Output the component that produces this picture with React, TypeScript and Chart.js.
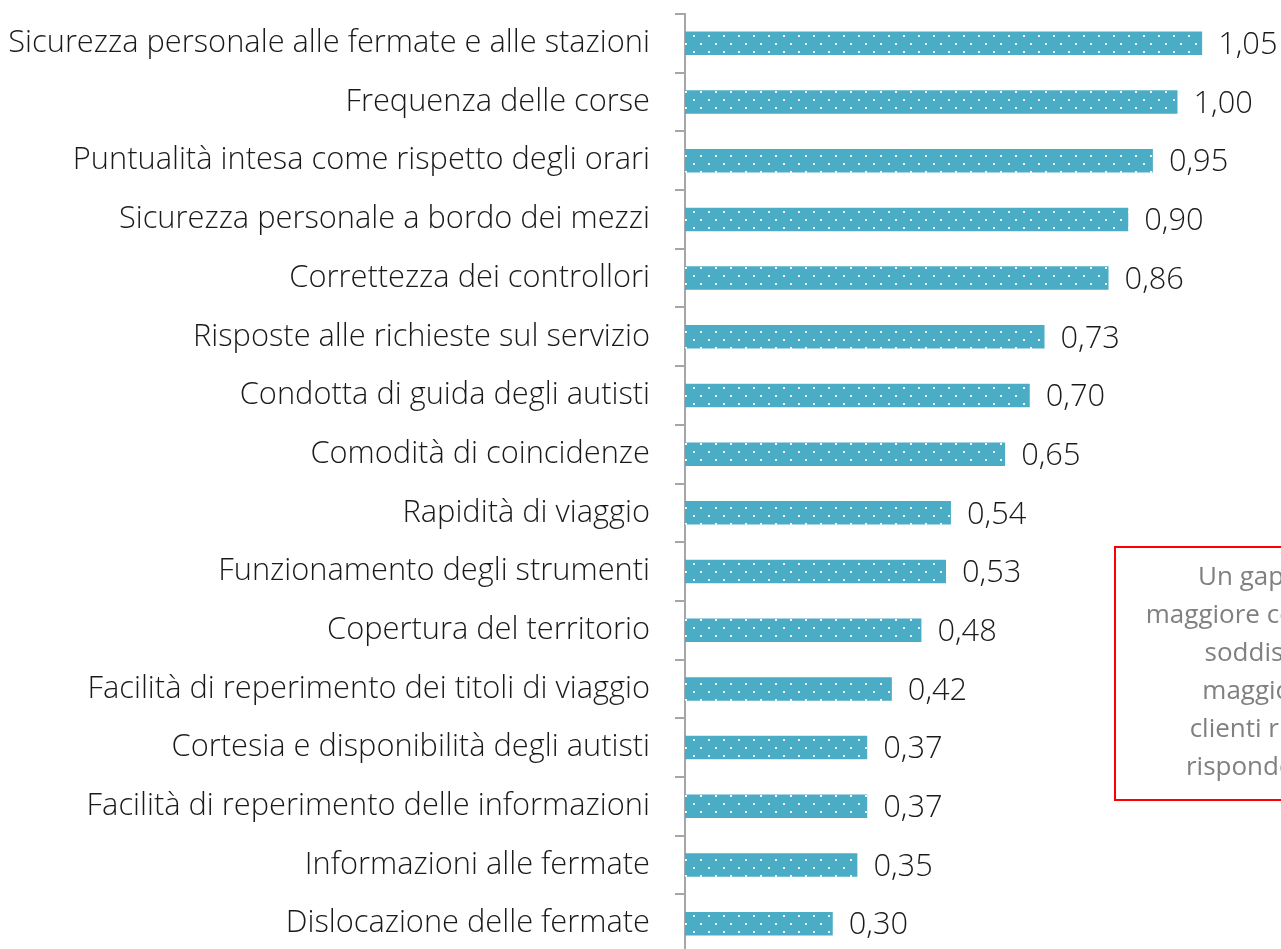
import React, { useEffect, useRef } from "react";
import { Chart, registerables } from "chart.js";

Chart.register(...registerables);

const categories: string[] = [
  "Sicurezza personale alle fermate e alle stazioni",
  "Frequenza delle corse",
  "Puntualità intesa come rispetto degli orari",
  "Sicurezza personale a bordo dei mezzi",
  "Correttezza dei controllori",
  "Risposte alle richieste sul servizio",
  "Condotta di guida degli autisti",
  "Comodità di coincidenze",
  "Rapidità di viaggio",
  "Funzionamento degli strumenti",
  "Copertura del territorio",
  "Facilità di reperimento dei titoli di viaggio",
  "Cortesia e disponibilità degli autisti",
  "Facilità di reperimento delle informazioni",
  "Informazioni alle fermate",
  "Dislocazione delle fermate",
];

const gapValues: number[] = [
  1.05, 1.0, 0.95, 0.9, 0.86, 0.73, 0.7, 0.65, 0.54, 0.53, 0.48, 0.42, 0.37, 0.37, 0.35, 0.3,
];

const noteLines: string[] = [
  "Un gap più alto",
  "maggiore corrisponde a",
  "soddisfatti del",
  "maggiore per i",
  "clienti rispetto ai",
  "rispondono bene",
];

const FONT_FAMILY = "'Open Sans', 'Noto Sans', sans-serif";
const FONT_WEIGHT = "300";
const FONT_SIZE = 30.8;

function makePattern(): CanvasPattern | string {
  const c = document.createElement("canvas");
  c.width = 15;
  c.height = 16;
  const ctx = c.getContext("2d");
  if (!ctx) return "#4BACC6";
  ctx.fillStyle = "#4BACC6";
  ctx.fillRect(0, 0, 15, 16);
  ctx.fillStyle = "rgba(255,255,255,0.95)";
  ctx.fillRect(3, 3, 2, 2);
  ctx.fillRect(10, 11, 2, 2);
  const p = ctx.createPattern(c, "repeat");
  return p || "#4BACC6";
}

const labelPlugin = {
  id: "valueLabels",
  afterDatasetsDraw(chart: any) {
    const ctx = chart.ctx;
    const meta = chart.getDatasetMeta(0);
    ctx.save();
    ctx.font = `${FONT_WEIGHT} ${FONT_SIZE}px ${FONT_FAMILY}`;
    ctx.fillStyle = "#1a1a1a";
    ctx.textAlign = "left";
    ctx.textBaseline = "middle";
    meta.data.forEach((bar: any, i: number) => {
      const txt = gapValues[i].toFixed(2).replace(".", ",");
      ctx.fillText(txt, bar.x + 16, bar.y + 2);
    });
    ctx.restore();
  },
};

const notePlugin = {
  id: "noteBox",
  afterDraw(chart: any) {
    const ctx = chart.ctx;
    ctx.save();
    ctx.strokeStyle = "#FF0000";
    ctx.lineWidth = 2;
    ctx.strokeRect(1115, 547, 350, 253);
    ctx.font = `400 26px ${FONT_FAMILY}`;
    ctx.fillStyle = "#808080";
    ctx.textAlign = "center";
    ctx.textBaseline = "middle";
    noteLines.forEach((line, i) => {
      ctx.fillText(line, 1290, 578 + i * 38);
    });
    ctx.restore();
  },
};

export default function App() {
  const ref = useRef<HTMLCanvasElement | null>(null);

  useEffect(() => {
    if (!ref.current) return;
    const chart = new Chart(ref.current, {
      type: "bar",
      data: {
        labels: categories,
        datasets: [
          {
            data: gapValues,
            backgroundColor: makePattern() as any,
            borderWidth: 0,
            categoryPercentage: 1,
            barPercentage: 0.4,
          },
        ],
      },
      options: {
        indexAxis: "y",
        responsive: false,
        animation: false,
        layout: { padding: { top: 14, bottom: 7, left: 0, right: 5 } },
        plugins: {
          legend: { display: false },
          tooltip: { enabled: false },
        },
        scales: {
          x: {
            display: false,
            min: 0,
            max: 1.2,
          },
          y: {
            afterFit(scale: any) {
              scale.width = 685;
              scale.paddingTop = 0;
              scale.paddingBottom = 0;
            },
            grid: {
              offset: true,
              drawOnChartArea: false,
              drawTicks: true,
              tickLength: 10,
              color: "#A6A6A6",
              lineWidth: 2,
            },
            border: { display: true, color: "#A6A6A6", width: 2 },
            ticks: {
              padding: 25,
              color: "#1a1a1a",
              font: { family: FONT_FAMILY, size: FONT_SIZE, weight: FONT_WEIGHT as any },
              autoSkip: false,
            },
          },
        },
      },
      plugins: [labelPlugin, notePlugin],
    });
    return () => chart.destroy();
  }, []);

  return (
    <div
      style={{
        position: "fixed",
        top: 0,
        left: 0,
        width: 1281,
        height: 949,
        overflow: "hidden",
        background: "#fff",
      }}
    >
      <canvas ref={ref} width={1281} height={960} style={{ display: "block" }} />
    </div>
  );
}
